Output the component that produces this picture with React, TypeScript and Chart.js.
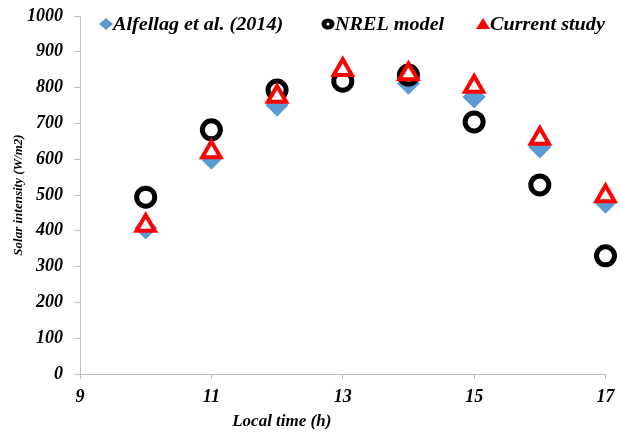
import React, { useEffect, useRef } from "react";
import { Chart, registerables } from "chart.js";

Chart.register(...registerables);

const times = [10, 11, 12, 13, 14, 15, 16, 17];
const alfellag = [408, 603, 751, 826, 812, 774, 634, 480];
const nrel = [494, 682, 793, 818, 835, 704, 528, 330];
const current = [415, 620, 775, 850, 838, 803, 658, 497];

const seriesNames = ["Alfellag et al. (2014)", "NREL model", "Current study"];
const xTitle = "Local time (h)";
const yTitle = "Solar intensity (W/m2)";

const FONT = "'Liberation Serif', 'Times New Roman', serif";

const xTitlePlugin = {
  id: "xTitlePlugin",
  afterDraw(chart: any) {
    const { ctx, chartArea } = chart;
    ctx.save();
    ctx.font = `italic bold 17px ${FONT}`;
    ctx.fillStyle = "#000";
    ctx.textAlign = "center";
    ctx.textBaseline = "middle";
    ctx.fillText(xTitle, chartArea.left + (chartArea.right - chartArea.left) * 0.384, 422);
    ctx.restore();
  },
};

// custom legend drawn inside the plot area, on one row
const legendPlugin = {
  id: "insideLegend",
  afterDraw(chart: any) {
    const { ctx, chartArea } = chart;
    const y = chartArea.top + 8;
    const markerX = [chartArea.left + 26, chartArea.left + 248, chartArea.left + 403];
    ctx.save();
    chart.data.datasets.forEach((ds: any, i: number) => {
      const mx = markerX[i];
      ctx.beginPath();
      if (i === 0) {
        ctx.fillStyle = ds.borderColor;
        ctx.moveTo(mx - 7, y);
        ctx.lineTo(mx, y - 6);
        ctx.lineTo(mx + 7, y);
        ctx.lineTo(mx, y + 6);
        ctx.closePath();
        ctx.fill();
      } else if (i === 1) {
        ctx.fillStyle = ds.borderColor;
        ctx.ellipse(mx, y, 6.5, 5.5, 0, 0, Math.PI * 2);
        ctx.fill();
        ctx.beginPath();
        ctx.fillStyle = "#fff";
        ctx.arc(mx, y, 1.6, 0, Math.PI * 2);
        ctx.fill();
      } else {
        ctx.fillStyle = ds.borderColor;
        ctx.moveTo(mx - 7, y + 5);
        ctx.lineTo(mx, y - 6);
        ctx.lineTo(mx + 7, y + 5);
        ctx.closePath();
        ctx.fill();
      }
      ctx.save();
      ctx.translate(mx + 7, y);
      ctx.scale(1.12, 1);
      ctx.font = `italic bold 18px ${FONT}`;
      ctx.fillStyle = "#000";
      ctx.textAlign = "left";
      ctx.textBaseline = "middle";
      ctx.fillText(ds.label, 0, 1);
      ctx.restore();
    });
    ctx.restore();
  },
};

export default function App() {
  const ref = useRef<HTMLCanvasElement>(null);
  useEffect(() => {
    document.body.style.margin = "0";
    const toPts = (arr: number[]) => times.map((t, i) => ({ x: t, y: arr[i] }));
    const chart = new Chart(ref.current!, {
      type: "scatter",
      data: {
        datasets: [
          {
            label: seriesNames[0],
            data: toPts(alfellag),
            pointStyle: "rectRot",
            pointRadius: 11,
            backgroundColor: "#5B9BD5",
            borderColor: "#5B9BD5",
            borderWidth: 1,
            order: 2,
            clip: false,
          },
          {
            label: seriesNames[1],
            data: toPts(nrel),
            pointStyle: "circle",
            pointRadius: 9,
            backgroundColor: "#ffffff",
            borderColor: "#000000",
            borderWidth: 5,
            order: 1,
            clip: false,
          },
          {
            label: seriesNames[2],
            data: toPts(current),
            pointStyle: "triangle",
            pointRadius: 10.5,
            backgroundColor: "#ffffff",
            borderColor: "#ff0000",
            borderWidth: 4,
            order: 0,
            clip: false,
          },
        ],
      },
      options: {
        animation: false,
        responsive: false,
        layout: { padding: { top: 16, right: 13, left: 0, bottom: 0 } },
        plugins: {
          tooltip: { enabled: false },
          legend: { display: false },
        },
        scales: {
          x: {
            type: "linear",
            min: 9,
            max: 17,
            afterFit: (s: any) => {
              s.height = 60;
              s.paddingLeft = 0;
              s.paddingRight = 0;
            },
            ticks: {
              stepSize: 2,
              color: "#000",
              padding: 8,
              font: { family: FONT, size: 18, style: "italic", weight: "bold" },
            },
            grid: {
              display: true,
              drawOnChartArea: false,
              drawTicks: true,
              tickLength: 5,
              color: "#bfbfbf",
            },
            border: { color: "#bfbfbf", width: 1 },
          },
          y: {
            min: 0,
            max: 1000,
            afterFit: (s: any) => {
              s.width = 80;
              s.paddingTop = 0;
              s.paddingBottom = 0;
            },
            ticks: {
              stepSize: 100,
              color: "#000",
              padding: 11,
              callback: (v: any) => String(v),
              font: { family: FONT, size: 18, style: "italic", weight: "bold" },
            },
            grid: {
              display: true,
              drawOnChartArea: false,
              drawTicks: true,
              tickLength: 6,
              color: "#bfbfbf",
            },
            border: { color: "#bfbfbf", width: 1 },
            title: {
              display: true,
              text: yTitle,
              color: "#000",
              padding: { top: 11, bottom: 0 },
              font: { family: FONT, size: 13, style: "italic", weight: "bold" },
            },
          },
        },
      },
      plugins: [xTitlePlugin, legendPlugin],
    });
    return () => chart.destroy();
  }, []);
  return (
    <div style={{ width: 620, height: 434 }}>
      <canvas ref={ref} width={620} height={434} style={{ display: "block" }} />
    </div>
  );
}
